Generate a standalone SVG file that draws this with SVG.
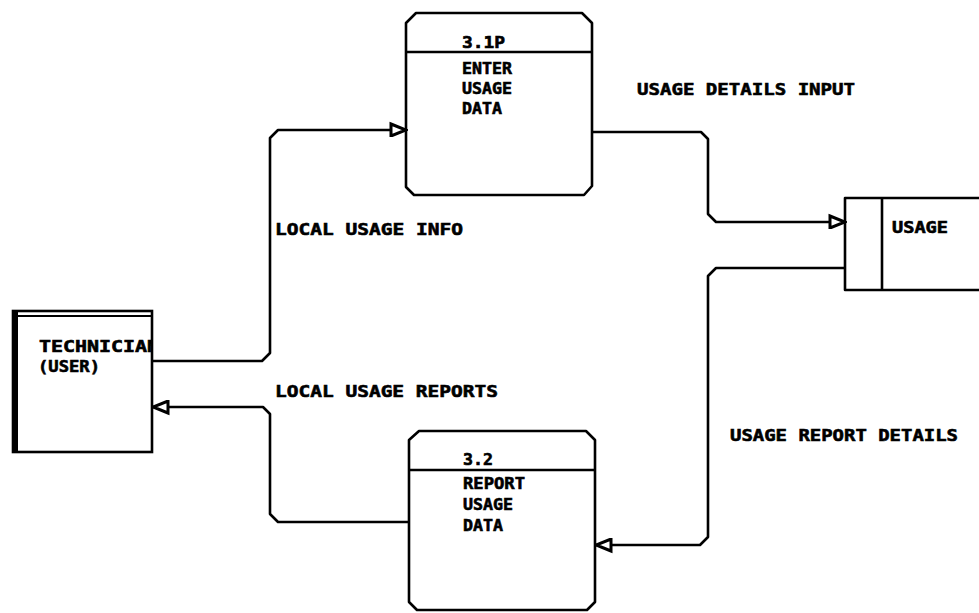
<svg xmlns="http://www.w3.org/2000/svg" width="979" height="613" viewBox="0 0 979 613">
<style>
.ln{fill:none;stroke:#000;stroke-width:2.6;stroke-linejoin:round}
.bx{fill:#fff;stroke:#000;stroke-width:2.6;stroke-linejoin:round}
.t{font-family:"DejaVu Sans Mono","Liberation Mono",monospace;font-weight:bold;font-size:16px;fill:#000;stroke:#000;stroke-width:0.6}
.lb{font-family:"DejaVu Sans Mono","Liberation Mono",monospace;font-weight:bold;font-size:16.5px;fill:#000;stroke:#000;stroke-width:0.6}
</style>
<defs>
<marker id="arr" markerUnits="userSpaceOnUse" markerWidth="20" markerHeight="16" refX="16" refY="7" orient="auto" viewBox="-2 -2 20 16">
<path d="M1,1 L16,7 L1,13 Z" fill="#fff" stroke="#000" stroke-width="3" stroke-linejoin="miter"/>
</marker>
<clipPath id="techclip"><rect x="13" y="311" width="139" height="141"/></clipPath>
</defs>
<rect width="979" height="613" fill="#fff"/>
<g id="technician">
<g clip-path="url(#techclip)">
<text class="t" x="39" y="352" textLength="120" lengthAdjust="spacingAndGlyphs">TECHNICIAN</text>
</g>
<text class="t" x="38" y="372" textLength="62" lengthAdjust="spacingAndGlyphs">(USER)</text>
<rect x="13" y="311" width="139" height="141" fill="none" stroke="#000" stroke-width="2.6"/>
<line x1="13" y1="316" x2="152" y2="316" stroke="#000" stroke-width="2"/>
<line x1="16" y1="311" x2="16" y2="452" stroke="#000" stroke-width="4"/>
</g>
<g id="p31">
<path class="bx" d="M416,13 H582 L592,23 V186 L584,195 H414 L406,187 V23 Z"/>
<line x1="406" y1="52" x2="592" y2="52" stroke="#000" stroke-width="2.6"/>
<text class="t" x="462" y="48" textLength="43" lengthAdjust="spacingAndGlyphs">3.1P</text>
<text class="t" x="462" y="74" textLength="50" lengthAdjust="spacingAndGlyphs">ENTER</text>
<text class="t" x="462" y="94" textLength="50" lengthAdjust="spacingAndGlyphs">USAGE</text>
<text class="t" x="462" y="114" textLength="40" lengthAdjust="spacingAndGlyphs">DATA</text>
</g>
<g id="p32">
<path class="bx" d="M419,431 H586 L595,440 V602 L587,610 H417 L409,602 V440 Z"/>
<line x1="409" y1="470" x2="595" y2="470" stroke="#000" stroke-width="2.6"/>
<text class="t" x="463" y="465" textLength="30" lengthAdjust="spacingAndGlyphs">3.2</text>
<text class="t" x="463" y="489" textLength="62" lengthAdjust="spacingAndGlyphs">REPORT</text>
<text class="t" x="463" y="510" textLength="50" lengthAdjust="spacingAndGlyphs">USAGE</text>
<text class="t" x="463" y="531" textLength="40" lengthAdjust="spacingAndGlyphs">DATA</text>
</g>
<g id="usage">
<path class="bx" d="M985,198 H845 V290 H985"/>
<line x1="882" y1="198" x2="882" y2="290" stroke="#000" stroke-width="2.6"/>
<text class="t" x="892" y="233" textLength="56" lengthAdjust="spacingAndGlyphs">USAGE</text>
</g>
<g id="connectors">
<path class="ln" d="M152,361 H262 L270,353 V138 L278,130 H406" marker-end="url(#arr)"/>
<path class="ln" d="M592,132 H701 L708,139 V214 L716,222 H845" marker-end="url(#arr)"/>
<path class="ln" d="M845,268 H716 L708,276 V537 L700,545 H596" marker-end="url(#arr)"/>
<path class="ln" d="M409,522 H278 L270,514 V414 L263,407 H153" marker-end="url(#arr)"/>
</g>
<g id="labels">
<text class="lb" x="275" y="235" textLength="188" lengthAdjust="spacingAndGlyphs">LOCAL USAGE INFO</text>
<text class="lb" x="275" y="397" textLength="223" lengthAdjust="spacingAndGlyphs">LOCAL USAGE REPORTS</text>
<text class="lb" x="637" y="95" textLength="218" lengthAdjust="spacingAndGlyphs">USAGE DETAILS INPUT</text>
<text class="lb" x="730" y="441" textLength="228" lengthAdjust="spacingAndGlyphs">USAGE REPORT DETAILS</text>
</g>
</svg>
